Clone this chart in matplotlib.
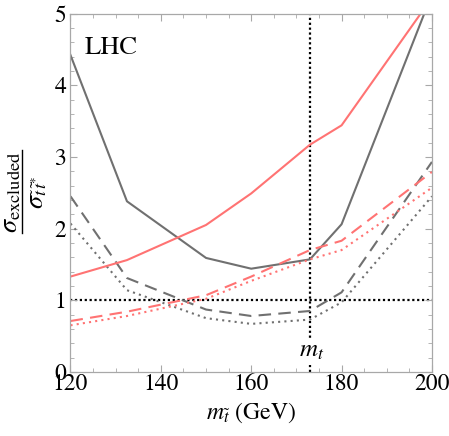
import matplotlib
matplotlib.use("Agg")
import matplotlib.pyplot as plt
from matplotlib.lines import Line2D
from matplotlib.ticker import MultipleLocator

plt.rcParams['font.family'] = ['STIXGeneral', 'DejaVu Serif']
plt.rcParams['mathtext.fontset'] = 'stix'

mass = [120, 132.5, 150, 160, 173, 180, 200]
gray_solid = [4.42, 2.38, 1.59, 1.44, 1.57, 2.06, 5.27]
gray_dashed = [2.45, 1.31, 0.87, 0.78, 0.85, 1.11, 2.93]
gray_dotted = [2.07, 1.14, 0.75, 0.67, 0.73, 0.97, 2.45]
red_solid = [1.33, 1.56, 2.05, 2.49, 3.17, 3.44, 5.22]
red_dashed = [0.71, 0.84, 1.07, 1.33, 1.70, 1.83, 2.79]
red_dotted = [0.65, 0.78, 1.02, 1.27, 1.57, 1.70, 2.57]
m_top = 173
xticks = [120, 140, 160, 180, 200]
yticks = [0, 1, 2, 3, 4, 5]

gray = '#707070'
red = '#ff7373'

fig = plt.figure(figsize=(4.49, 4.36), dpi=100)
ax = fig.add_axes([0.157, 0.147, 0.805, 0.822])

lw = 1.5
ax.plot(mass, gray_solid, color=gray, lw=lw)
ax.plot(mass, gray_dashed, color=gray, lw=lw, dashes=(6, 3.5))
ax.plot(mass, gray_dotted, color=gray, lw=lw, dashes=(1, 2))
ax.plot(mass, red_solid, color=red, lw=lw)
ax.plot(mass, red_dashed, color=red, lw=lw, dashes=(6, 3.5))
ax.plot(mass, red_dotted, color=red, lw=lw, dashes=(1, 2))

ax.axhline(1, color='black', lw=1.6, dashes=(1, 1.2), zorder=1)
ax.axvline(m_top, color='black', lw=1.6, dashes=(1, 1.2), zorder=1)

ax.text(m_top + 0.4, 0.29, r'$m_t$', fontsize=18, ha='center', va='center',
        bbox=dict(facecolor='white', edgecolor='none', pad=1.0), zorder=5)
ax.text(123.2, 4.52, 'LHC', fontsize=19, ha='left', va='center')

ax.set_xlim(120, 200)
ax.set_ylim(0, 5)
ax.set_xticks(xticks)
ax.set_yticks(yticks)
ax.xaxis.set_minor_locator(MultipleLocator(5))
ax.yaxis.set_minor_locator(MultipleLocator(0.2))
ax.tick_params(which='both', direction='in', top=True, right=True,
               color='#a8a8a8', labelsize=17)
ax.tick_params(which='major', length=5, width=0.8)
ax.tick_params(which='minor', length=3, width=0.6)
ax.tick_params(axis='x', pad=1)
ax.tick_params(axis='y', pad=3)
for s in ax.spines.values():
    s.set_color('#a8a8a8')
    s.set_linewidth(0.9)

ax.set_xlabel(r'$m_{\tilde{t}}$ (GeV)', fontsize=17, labelpad=4)

# y label as a stacked fraction (rotated)
W, H = 449.0, 436.0
yc = 1 - 192 / H
fig.text(11 / W, yc, r'$\sigma_{\mathrm{excluded}}$', rotation=90,
         fontsize=19, ha='center', va='center')
fig.text(37 / W, yc, r'$\sigma_{\tilde{t}\,\tilde{t}^{*}}$', rotation=90,
         fontsize=19, ha='center', va='center')
fig.add_artist(Line2D([21.5 / W, 21.5 / W], [1 - 150 / H, 1 - 233 / H],
                      color='black', lw=1.0, transform=fig.transFigure))

fig.savefig('out.png', dpi=100)
